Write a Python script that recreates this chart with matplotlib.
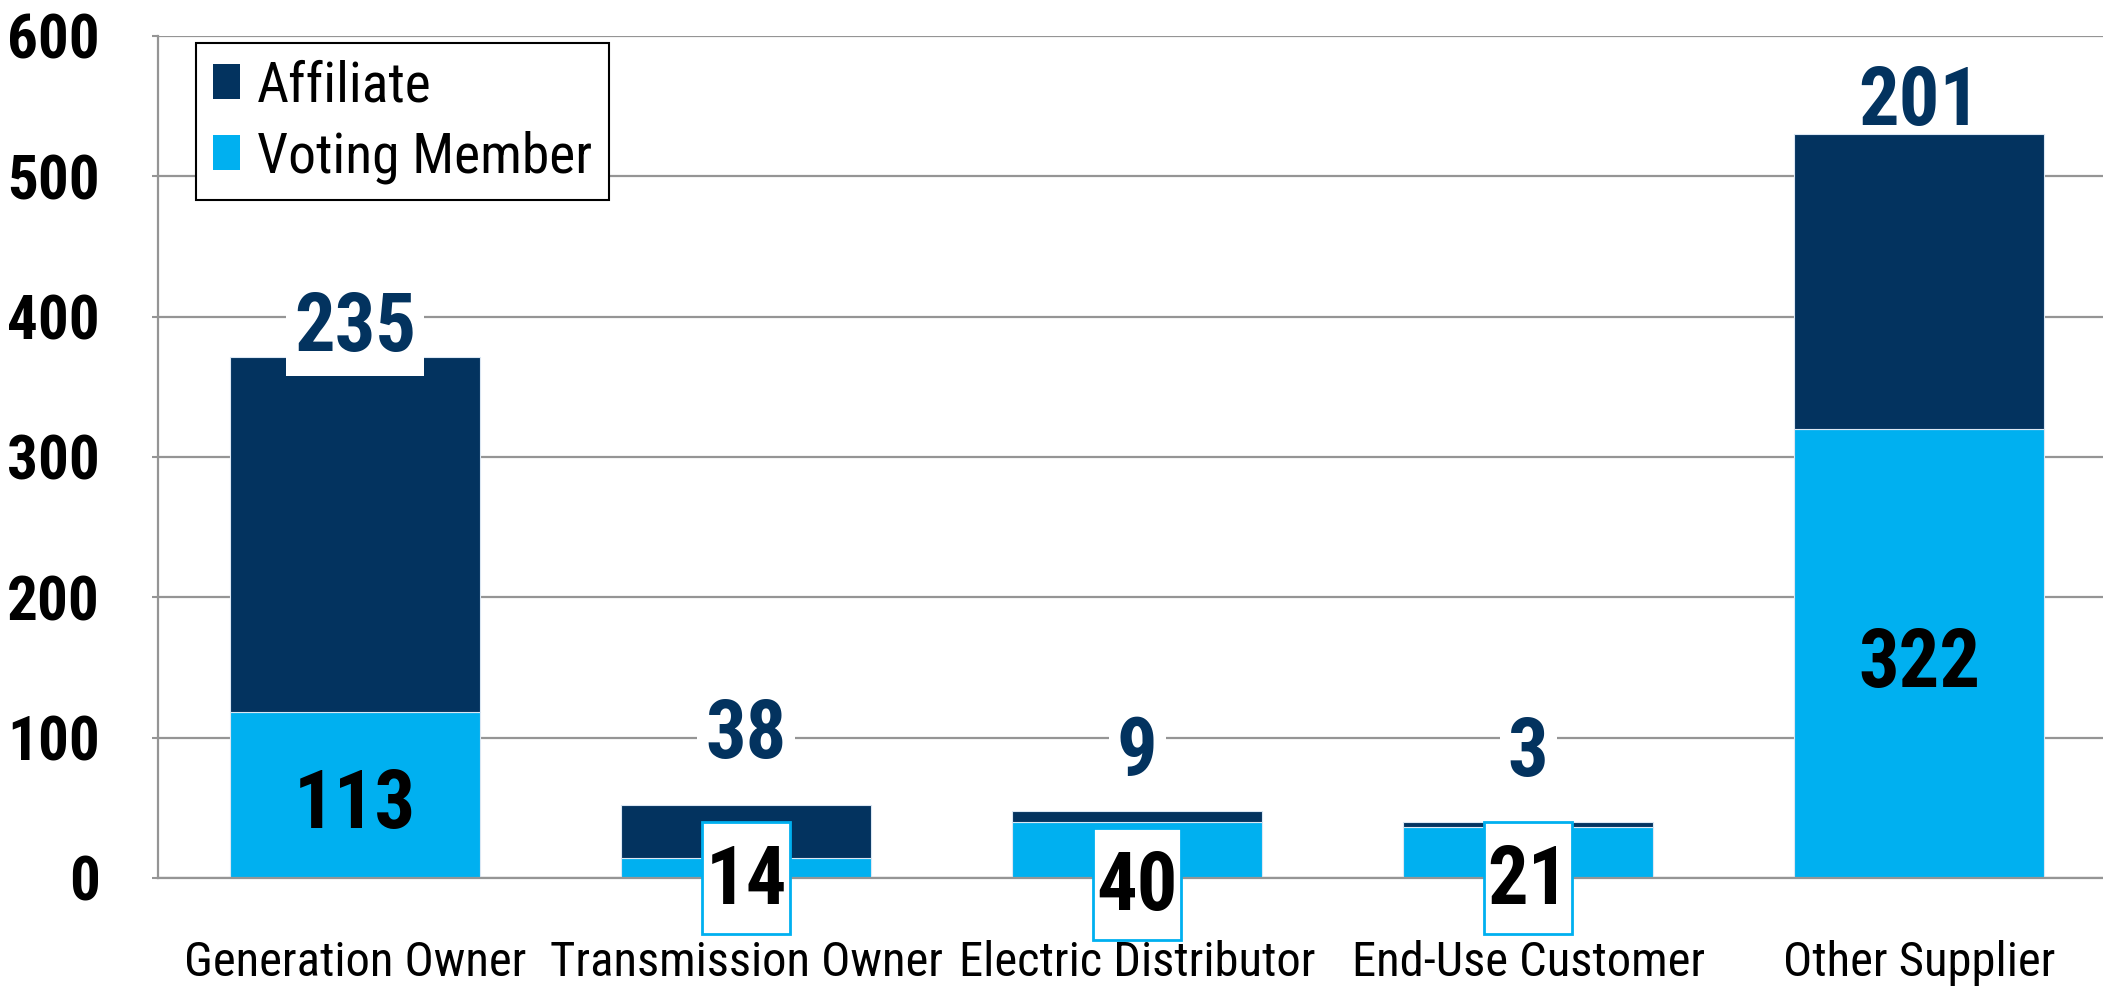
import matplotlib.pyplot as plt
from matplotlib import font_manager as fm
from matplotlib.path import Path
import numpy as np

categories = ['Generation Owner', 'Transmission Owner', 'Electric Distributor',
              'End-Use Customer', 'Other Supplier']
# bar heights as drawn in the picture
voting = [118, 14, 40, 36, 320]
affiliate = [253, 38, 8, 4, 210]
# numbers printed on the bars
voting_labels = ['113', '14', '40', '21', '322']
affiliate_labels = ['235', '38', '9', '3', '201']

navy = '#03335F'
light = '#00B0F0'
gray = '#959595'

# look for a condensed sans face, the chart uses Arial Narrow
names = {f.name for f in fm.fontManager.ttflist}
narrow = None
for cand in ['Liberation Sans Narrow', 'Roboto Condensed', 'Open Sans Condensed',
             'Noto Sans Condensed', 'DejaVu Sans Condensed']:
    if cand in names:
        narrow = cand
        break
stretch = 'normal'
k = 1.0
if narrow is None:
    cond = [f for f in fm.fontManager.ttflist if f.name == 'DejaVu Sans' and f.stretch == 'condensed']
    if cond:
        narrow = 'DejaVu Sans'
        stretch = 'condensed'
        k = 0.9
    else:
        narrow = 'Liberation Sans'
        k = 0.82
fam = [narrow, 'DejaVu Sans']


def tall_box(x0, y0, width, height, mutation_size):
    # box with small side padding and more room above than below
    px = 0.04 * mutation_size
    pt = 0.26 * mutation_size
    pb = 0.16 * mutation_size
    x0, x1 = x0 - px, x0 + width + px
    y0, y1 = y0 - pb, y0 + height + pt
    return Path([(x0, y0), (x1, y0), (x1, y1), (x0, y1), (x0, y0)], closed=True)


# label placement (layout only)
aff_off = [20, 49, 41, 48, 22]
vot_small_y = [None, -3, -7, -3, None]

fig = plt.figure(figsize=(21.03, 9.97), dpi=100)
ax = fig.add_axes([0.0751, 0.1194, 0.9249, 0.8445])

x = np.arange(len(categories))
bv = ax.bar(x, voting, width=0.64, color=light, edgecolor='#dbe7f3', lw=0.8, zorder=2)
ba = ax.bar(x, affiliate, bottom=voting, width=0.64, color=navy, edgecolor='#dbe7f3', lw=0.8, zorder=2)

ax.set_xlim(-0.504, 4.47)
ax.set_ylim(0, 600)
ax.set_yticks(range(0, 601, 100))
ax.set_xticks(x)
ax.set_xticklabels(categories, family=fam, stretch=stretch, fontsize=35 * k)
for t in ax.get_yticklabels():
    t.set_family(fam)
    t.set_stretch(stretch)
    t.set_fontweight('bold')
    t.set_fontsize(44 * k)
ax.tick_params(axis='y', length=4, color=gray, width=1.5, pad=38)
ax.tick_params(axis='x', length=0, pad=45)

ax.yaxis.grid(True, color=gray, lw=1.6)
ax.set_axisbelow(True)
for s in ['top', 'right']:
    ax.spines[s].set_visible(False)
for s in ['left', 'bottom']:
    ax.spines[s].set_color(gray)
    ax.spines[s].set_linewidth(1.6)

for i in range(len(categories)):
    total = voting[i] + affiliate[i]
    # affiliate numbers above the bars
    if i == 4:
        box = None
    else:
        box = dict(boxstyle='square,pad=0.1', fc='white', ec='none')
    ax.text(x[i], total + aff_off[i], affiliate_labels[i], ha='center', va='center',
            family=fam, stretch=stretch, fontweight='bold', fontsize=58 * k,
            color=navy, bbox=box, zorder=5)
    # voting numbers
    if vot_small_y[i] is None:
        ax.text(x[i], voting[i] / 2 - 8, voting_labels[i], ha='center', va='center',
                family=fam, stretch=stretch, fontweight='bold', fontsize=58 * k,
                color='black', zorder=5)
    else:
        ax.text(x[i], vot_small_y[i], voting_labels[i], ha='center', va='center',
                family=fam, stretch=stretch, fontweight='bold', fontsize=58 * k,
                color='black', zorder=5,
                bbox=dict(boxstyle=tall_box, fc='white', ec=light, lw=2))

leg = ax.legend([ba, bv], ['Affiliate', 'Voting Member'], loc='upper left',
                bbox_to_anchor=(0.0195, 0.992), borderaxespad=0, fancybox=False,
                edgecolor='black', framealpha=1,
                prop={'family': fam, 'stretch': stretch, 'size': 40 * k},
                handlelength=0.5, handleheight=0.6, handletextpad=0.3,
                labelspacing=0.32, borderpad=0.3)
leg.get_frame().set_linewidth(1.5)
for h in leg.legend_handles:
    h.set_edgecolor('none')

fig.savefig('out.png', dpi=100)
